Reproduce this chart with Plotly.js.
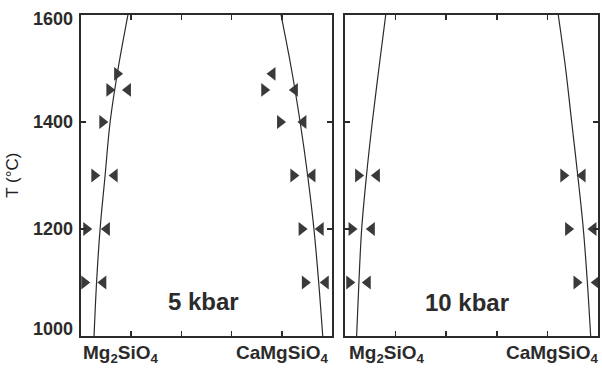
<!DOCTYPE html>
<html>
<head>
<meta charset="utf-8">
<script src="https://cdn.plot.ly/plotly-3.0.1.min.js"></script>
<style>
  html, body { margin: 0; padding: 0; background: #fff; }
  #chart { width: 602px; height: 376px; }
</style>
</head>
<body>
<div id="chart"></div>
<script>
// Solvus limbs: temperature (°C) vs. mole fraction CaMgSiO4
const solvusT = [1000, 1100, 1200, 1300, 1400, 1500, 1600];
const mgLimb5 = [0.052, 0.062, 0.076, 0.096, 0.116, 0.148, 0.187];
const caLimb5 = [0.963, 0.947, 0.928, 0.903, 0.873, 0.838, 0.797];
const mgLimb10 = [0.046, 0.055, 0.066, 0.085, 0.108, 0.134, 0.161];
const caLimb10 = [0.971, 0.958, 0.942, 0.920, 0.896, 0.872, 0.843];

// Reversal brackets at 5 kbar: right-pointing (approach from Mg side), left-pointing (from Ca side)
const rightT5 = [1490, 1460, 1400, 1300, 1200, 1100, 1460, 1400, 1300, 1200, 1100];
const rightX5 = [0.144, 0.113, 0.085, 0.053, 0.021, 0.013, 0.730, 0.793, 0.846, 0.879, 0.892];
const leftT5 = [1460, 1300, 1200, 1100, 1490, 1460, 1400, 1300, 1200, 1100];
const leftX5 = [0.187, 0.134, 0.103, 0.089, 0.763, 0.852, 0.886, 0.922, 0.955, 0.975];

// Reversal brackets at 10 kbar
const rightT10 = [1300, 1200, 1100, 1300, 1200, 1100];
const rightX10 = [0.052, 0.026, 0.017, 0.863, 0.882, 0.915];
const leftT10 = [1300, 1200, 1100, 1300, 1200, 1100];
const leftX10 = [0.126, 0.106, 0.090, 0.939, 0.982, 0.995];

const yTicks = [1000, 1200, 1400, 1600];
const xTicks = [0.2, 0.4, 0.6, 0.8];
const panelLabels = ['5 kbar', '10 kbar'];
const endMembers = ['Mg<sub>2</sub>SiO<sub>4</sub>', 'CaMgSiO<sub>4</sub>'];

const FONT = 'Liberation Sans, Arial, Helvetica, sans-serif';
const INK = '#2b2b2b';
const MARK = '#3a3a3a';

function limb(xs, ax) {
  return {
    x: xs, y: solvusT, xaxis: 'x' + ax, yaxis: 'y' + ax,
    mode: 'lines', line: { color: INK, width: 1.2, shape: 'spline' },
    hoverinfo: 'skip', showlegend: false
  };
}
function brackets(xs, ts, sym, ax) {
  return {
    x: xs, y: ts, xaxis: 'x' + ax, yaxis: 'y' + ax,
    mode: 'markers', cliponaxis: false,
    marker: { symbol: sym, size: 12, color: MARK, line: { width: 0 } },
    showlegend: false
  };
}

const data = [
  limb(mgLimb5, ''), limb(caLimb5, ''),
  limb(mgLimb10, '2'), limb(caLimb10, '2'),
  brackets(rightX5, rightT5, 'triangle-right', ''),
  brackets(leftX5, leftT5, 'triangle-left', ''),
  brackets(rightX10, rightT10, 'triangle-right', '2'),
  brackets(leftX10, leftT10, 'triangle-left', '2')
];

function xAxis(domain, anchor) {
  return {
    domain: domain, anchor: anchor, range: [0, 1],
    tickvals: xTicks, ticks: 'inside', ticklen: 5, tickwidth: 1.5, tickcolor: INK,
    showticklabels: false, showgrid: false, zeroline: false,
    showline: true, linewidth: 2, linecolor: INK, mirror: 'ticks'
  };
}
function yAxis(anchor) {
  return {
    domain: [0, 1], anchor: anchor, range: [1000, 1600],
    tickvals: yTicks, ticks: 'inside', ticklen: 5, tickwidth: 1.5, tickcolor: INK,
    showticklabels: false, showgrid: false, zeroline: false,
    showline: true, linewidth: 2, linecolor: INK, mirror: 'ticks'
  };
}

const annotations = [];
// temperature tick labels on the left panel
yTicks.forEach(function (v, i) {
  let shift = 0;
  if (i === yTicks.length - 1) shift = -4;
  if (i === 0) shift = 7;
  annotations.push({
    xref: 'x domain', yref: 'y', x: 0, y: v, xanchor: 'right', yanchor: 'middle',
    xshift: -6, yshift: shift, showarrow: false, text: String(v),
    font: { family: FONT, size: 18, color: INK, weight: 'bold' }
  });
});
// axis title
annotations.push({
  xref: 'paper', yref: 'paper', x: -0.133, y: 0.5, xanchor: 'center', yanchor: 'middle',
  textangle: -90, showarrow: false, text: 'T (°C)',
  font: { family: FONT, size: 17, color: '#222' }
});
// end-member labels under each panel
[['x', 0.16, 0.80], ['x2', 0.166, 0.82]].forEach(function (p) {
  [p[1], p[2]].forEach(function (xv, j) {
    annotations.push({
      xref: p[0], yref: 'paper', x: xv, y: 0, xanchor: 'center', yanchor: 'top',
      yshift: -4, showarrow: false, text: endMembers[j],
      font: { family: FONT, size: 19, color: INK, weight: 'bold' }
    });
  });
});
// pressure labels
annotations.push({
  xref: 'x', yref: 'y', x: 0.49, y: 1065, showarrow: false, text: panelLabels[0],
  font: { family: FONT, size: 24, color: INK, weight: 'bold' }
});
annotations.push({
  xref: 'x2', yref: 'y2', x: 0.481, y: 1063, showarrow: false, text: panelLabels[1],
  font: { family: FONT, size: 24, color: INK, weight: 'bold' }
});

const layout = {
  width: 602, height: 376,
  margin: { l: 81, r: 4, t: 15, b: 40 },
  paper_bgcolor: '#fff', plot_bgcolor: '#fff',
  font: { family: FONT, color: INK },
  xaxis: xAxis([0, 0.4855], 'y'),
  yaxis: yAxis('x'),
  xaxis2: xAxis([0.5106, 1], 'y2'),
  yaxis2: yAxis('x2'),
  annotations: annotations,
  showlegend: false
};

Plotly.newPlot('chart', data, layout, { displayModeBar: false, staticPlot: true });
</script>
</body>
</html>
